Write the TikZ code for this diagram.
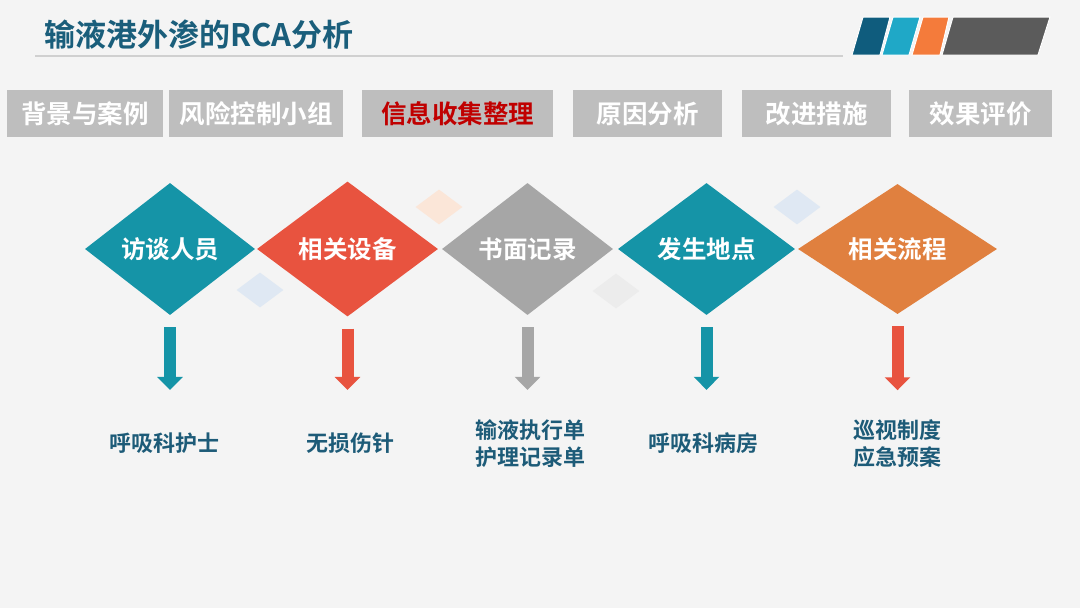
\documentclass[tikz,border=0pt]{standalone}
\usepackage{fontspec}
\setmainfont{Noto Sans CJK SC}[BoldFont={Noto Sans CJK SC Bold}]
\usepackage{xcolor}
\usetikzlibrary{shapes.geometric,arrows.meta}
\definecolor{bgcol}{HTML}{F4F4F4}
\definecolor{titleblue}{HTML}{1A5E7B}
\definecolor{findblue}{HTML}{1D5B78}
\definecolor{rulegray}{HTML}{D0D0D0}
\definecolor{tabgray}{HTML}{BEBEBE}
\definecolor{activered}{HTML}{C00000}
\definecolor{diagteal}{HTML}{1594A7}
\definecolor{diagred}{HTML}{E8533F}
\definecolor{diaggray}{HTML}{A6A6A6}
\definecolor{diagorange}{HTML}{E0803F}
\definecolor{stripeA}{HTML}{0F5C7D}
\definecolor{stripeB}{HTML}{1FA8C7}
\definecolor{stripeC}{HTML}{F47B3B}
\definecolor{stripeD}{HTML}{5B5B5B}
\definecolor{ghostpeach}{HTML}{FBE6D8}
\definecolor{ghostblue}{HTML}{DFE8F3}
\definecolor{ghostgray}{HTML}{ECECEC}

\begin{document}
\begin{tikzpicture}[x=1pt, y=-1pt, node distance=179pt,
    tabbox/.style={rectangle, fill=tabgray, text=white, minimum height=47pt, inner sep=0pt, font=\fontsize{25.5}{30}\selectfont\bfseries},
    topic/.style={diamond, fill=#1, text=white, inner sep=0pt, aspect=1.3, minimum height=132pt, font=\fontsize{24.5}{28}\selectfont\bfseries},
    ghost/.style={diamond, fill=#1, inner sep=0pt, minimum width=47pt, minimum height=35pt},
    finding/.style={text=findblue, align=center, inner sep=0pt, font=\fontsize{22}{27}\selectfont\bfseries},
    downarrow/.style={draw=#1, line width=12pt, shorten <=12pt, -{Triangle[width=25pt,length=13pt]}},
    stripe/.style={fill=#1, draw=white, line width=1pt}]
    \useasboundingbox (0,0) rectangle (1080,608);
    \fill [bgcol] (0,0) rectangle (1080,608);

    \node (title) [anchor=west, inner sep=0pt, text=titleblue, font=\fontsize{31}{36}\selectfont\bfseries] at (44,35) {输液港外渗的RCA分析};
    \draw [rulegray, line width=1.5pt] (35,56) -- (843,56);
    \path [stripe=stripeA] (852,55) -- (863,17) -- (890,17) -- (880,55) -- cycle;
    \path [stripe=stripeB] (882,55) -- (893,17) -- (920,17) -- (909,55) -- cycle;
    \path [stripe=stripeC] (912,55) -- (923,17) -- (949,17) -- (940,55) -- cycle;
    \path [stripe=stripeD] (942,55) -- (953,17) -- (1050,17) -- (1038,55) -- cycle;

    \node (case) [tabbox, minimum width=156pt] at (85,113.5) {背景与案例};
    \node (team) [tabbox, minimum width=174pt] at (256,113.5) {风险控制小组};
    \node (info) [tabbox, minimum width=191pt, text=activered] at (457.5,113.5) {信息收集整理};
    \node (cause) [tabbox, minimum width=149pt] at (647.5,113.5) {原因分析};
    \node (improve) [tabbox, minimum width=149pt] at (816.5,113.5) {改进措施};
    \node (effect) [tabbox, minimum width=143pt] at (980.5,113.5) {效果评价};

    \node (g1) [ghost=ghostpeach] at (439,207) {};
    \node (g2) [ghost=ghostblue] at (260,290) {};
    \node (g3) [ghost=ghostgray] at (616,291) {};
    \node (g4) [ghost=ghostblue] at (797,207) {};

    \node (people) [topic=diagteal, minimum width=170pt] at (170,249) {访谈人员};
    \node (device) [topic=diagred, minimum width=181pt, minimum height=135pt, right of=people, xshift=-1.5pt] {相关设备};
    \node (record) [topic=diaggray, minimum width=171pt, right of=device, xshift=1pt] {书面记录};
    \node (place) [topic=diagteal, minimum width=177pt, right of=record] {发生地点};
    \node (flow) [topic=diagorange, minimum width=199pt, minimum height=130pt, right of=place, xshift=12pt] {相关流程};

    \node (nurse) [finding, node distance=194pt, below of=people, xshift=-6pt] {呼吸科护士};
    \node (needle) [finding, node distance=194pt, below of=device, xshift=2.5pt] {无损伤针};
    \node (sheets) [finding, node distance=194.5pt, below of=record, xshift=2.5pt] {输液执行单\\护理记录单};
    \node (ward) [finding, node distance=194pt, below of=place, xshift=-3.5pt] {呼吸科病房};
    \node (rules) [finding, node distance=195pt, below of=flow] {巡视制度\\应急预案};

    \draw [downarrow=diagteal, shorten >=42.5pt] (people.south) -- (people.south |- nurse.north);
    \draw [downarrow=diagred, shorten >=42.5pt] (device.south) -- (device.south |- needle.north);
    \draw [downarrow=diaggray, shorten >=29.5pt] (record.south) -- (record.south |- sheets.north);
    \draw [downarrow=diagteal, shorten >=42.5pt] (place.south) -- (place.south |- ward.north);
    \draw [downarrow=diagred, shorten >=29.5pt] (flow.south) -- (flow.south |- rules.north);
\end{tikzpicture}
\end{document}
